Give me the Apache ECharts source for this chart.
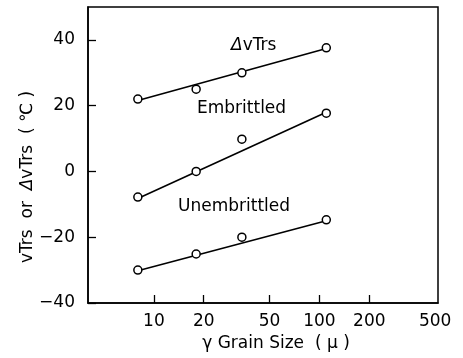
<!DOCTYPE html>
<html>
<head>
<meta charset="utf-8">
<script src="https://cdn.jsdelivr.net/npm/echarts@6/dist/echarts.min.js"></script>
<style>
  html, body { margin: 0; padding: 0; background: #fff; }
  #chart { width: 463px; height: 358px; }
</style>
</head>
<body>
<div id="chart"></div>
<script>
// Grain size (μm) of the measured specimens
const grainSize = [8, 18, 34, 110];

// Transition temperatures (°C)
const deltaVTrs = [22, 25, 30, 37.6];
const embrittled = [-7.8, 0, 9.8, 17.7];
const unembrittled = [-30, -25.1, -20, -14.7];

// Fitted straight lines (end points on the log axis)
const fitX = [8, 110];
const deltaFit = [21.6, 37.4];
const embrittledFit = [-8.2, 18];
const unembrittledFit = [-30.2, -15];

// Axis ticks
const xTicks = [10, 20, 50, 100, 200];
const xLabels = [10, 20, 50, 100, 200, 500];

const zip = (xs, ys) => xs.map((x, i) => [x, ys[i]]);

const FONT = 'DejaVu Sans';
const SIZE = 17;

const lineSeries = (data) => ({
  type: 'line',
  data: data,
  symbol: 'none',
  lineStyle: { color: '#000', width: 1.6 },
  silent: true,
  z: 2
});

const pointSeries = (data) => ({
  type: 'scatter',
  data: data,
  symbol: 'circle',
  symbolSize: 8,
  itemStyle: { color: '#fff', borderColor: '#000', borderWidth: 1.5, opacity: 1 },
  z: 3
});

const italicDelta = { fontFamily: FONT, fontSize: SIZE, fontStyle: 'italic', color: '#000' };
const labelFont = SIZE + 'px "DejaVu Sans"';

const chart = echarts.init(document.getElementById('chart'), null, { renderer: 'canvas' });

chart.setOption({
  animation: false,
  backgroundColor: '#fff',
  grid: {
    left: 88, right: 25, top: 7, bottom: 55,
    show: true, borderColor: '#000', borderWidth: 1.5, backgroundColor: 'transparent'
  },
  xAxis: {
    type: 'log',
    logBase: 10,
    min: 4,
    max: 520,
    name: 'γ Grain Size  ( μ )',
    nameLocation: 'middle',
    nameGap: 32,
    nameMoveOverlap: false,
    nameTextStyle: { fontFamily: FONT, fontSize: SIZE, color: '#000', padding: [0, 0, 0, 26] },
    axisLine: { show: true, onZero: false, lineStyle: { color: '#000', width: 1.5 } },
    axisTick: { show: true, inside: true, length: 8, lineStyle: { color: '#000', width: 1.3 }, customValues: xTicks },
    axisLabel: { fontFamily: FONT, fontSize: SIZE, color: '#000', margin: 10, customValues: xLabels },
    minorTick: { show: false },
    splitLine: { show: false }
  },
  yAxis: {
    type: 'value',
    min: -40,
    max: 50,
    interval: 20,
    name: 'vTrs  or  {d|Δ}vTrs  ( ℃ )',
    nameLocation: 'middle',
    nameRotate: 90,
    nameGap: 52,
    nameMoveOverlap: false,
    nameTextStyle: {
      fontFamily: FONT, fontSize: SIZE, color: '#000', padding: [0, 44, 0, 0],
      rich: { d: italicDelta }
    },
    axisLine: { show: true, onZero: false, lineStyle: { color: '#000', width: 1.5 } },
    axisTick: { show: true, inside: true, length: 8, lineStyle: { color: '#000', width: 1.3 } },
    axisLabel: {
      fontFamily: FONT, fontSize: SIZE, color: '#000', margin: 13,
      showMaxLabel: false,
      formatter: (v) => (v < 0 ? '\u2212' + Math.abs(v) : String(v))
    },
    splitLine: { show: false }
  },
  graphic: [
    {
      type: 'text', left: 231, top: 37,
      style: {
        text: '{d|Δ}vTrs', font: labelFont, fill: '#000',
        rich: { d: { font: 'italic ' + labelFont, fill: '#000' } }
      }
    },
    { type: 'text', left: 197, top: 100, style: { text: 'Embrittled', font: labelFont, fill: '#000' } },
    { type: 'text', left: 178, top: 198, style: { text: 'Unembrittled', font: labelFont, fill: '#000' } }
  ],
  series: [
    lineSeries(zip(fitX, deltaFit)),
    lineSeries(zip(fitX, embrittledFit)),
    lineSeries(zip(fitX, unembrittledFit)),
    pointSeries(zip(grainSize, deltaVTrs)),
    pointSeries(zip(grainSize, embrittled)),
    pointSeries(zip(grainSize, unembrittled))
  ]
});
</script>
</body>
</html>
